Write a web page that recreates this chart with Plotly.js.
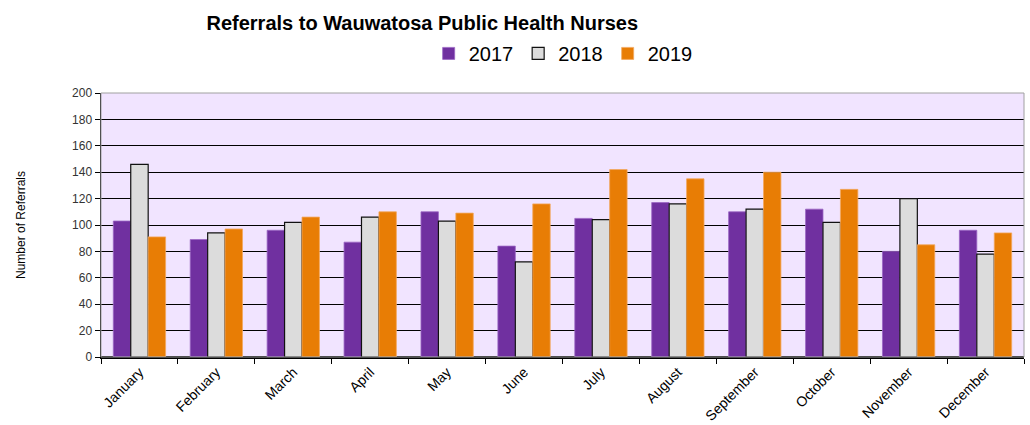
<!DOCTYPE html>
<html>
<head>
<meta charset="utf-8">
<script src="https://cdn.plot.ly/plotly-3.0.1.min.js"></script>
<style>html,body{margin:0;padding:0;background:#fff;}#chart{width:1030px;height:425px;}</style>
</head>
<body>
<div id="chart"></div>
<script>
var months = ["January","February","March","April","May","June","July","August","September","October","November","December"];
var values2017 = [103, 89, 96, 87, 110, 84, 105, 117, 110, 112, 80, 96];
var values2018 = [146, 94, 102, 106, 103, 72, 104, 116, 112, 102, 120, 78];
var values2019 = [91, 97, 106, 110, 109, 116, 142, 135, 140, 127, 85, 94];
var yTicks = [0, 20, 40, 60, 80, 100, 120, 140, 160, 180, 200];

var traces = [
  {type: "bar", name: "2017", x: months, y: values2017,
   marker: {color: "#7030a0", line: {color: "#9a66c4", width: 0.8}}},
  {type: "bar", name: "2018", x: months, y: values2018,
   marker: {color: "#dcdcdc", line: {color: "#111111", width: 1.2}}},
  {type: "bar", name: "2019", x: months, y: values2019,
   marker: {color: "#e87d05", line: {color: "#f3a860", width: 0.8}}}
];

var FONT = "Liberation Sans, Arial, sans-serif";

var layout = {
  width: 1030, height: 425,
  margin: {l: 101, r: 6, t: 93, b: 68, pad: 0},
  paper_bgcolor: "#ffffff",
  plot_bgcolor: "#f1e4ff",
  barmode: "group",
  bargap: 0.32,
  bargroupgap: 0,
  showlegend: true,
  title: {
    text: "<b>Referrals to Wauwatosa Public Health Nurses</b>",
    font: {family: FONT, size: 20, color: "#000"},
    x: 0.41, xref: "container", xanchor: "center",
    y: 0.945, yref: "container", yanchor: "middle"
  },
  legend: {
    orientation: "h",
    x: 0.355, xanchor: "left",
    y: 1.15, yanchor: "middle",
    font: {family: FONT, size: 20, color: "#000"},
    itemwidth: 30,
    tracegroupgap: 0,
    bgcolor: "rgba(0,0,0,0)"
  },
  xaxis: {
    type: "category",
    tickson: "boundaries",
    ticks: "outside",
    ticklen: 5,
    tickcolor: "#000",
    tickwidth: 1,
    tickangle: -45,
    tickfont: {family: FONT, size: 14, color: "#000"},
    showline: true,
    linecolor: "#000",
    linewidth: 1.5,
    showgrid: false,
    zeroline: false
  },
  yaxis: {
    range: [0, 200],
    tickvals: yTicks,
    ticktext: yTicks.map(String),
    ticks: "outside",
    ticklen: 5,
    tickcolor: "#000",
    tickfont: {family: FONT, size: 12, color: "#333"},
    showline: true,
    linecolor: "#000",
    linewidth: 1.5,
    showgrid: true,
    gridcolor: "#000",
    gridwidth: 1,
    zeroline: true,
    zerolinecolor: "#000",
    zerolinewidth: 1.5,
    title: {
      text: "Number of Referrals",
      font: {family: FONT, size: 12, color: "#000"},
      standoff: 44
    }
  },
  shapes: [
    {type: "rect", xref: "paper", yref: "paper", x0: 0, x1: 1, y0: 0, y1: 1,
     line: {color: "#a0a0a0", width: 1}, fillcolor: "rgba(0,0,0,0)", layer: "above"}
  ]
};

Plotly.newPlot("chart", traces, layout, {displayModeBar: false, staticPlot: true});
</script>
</body>
</html>
